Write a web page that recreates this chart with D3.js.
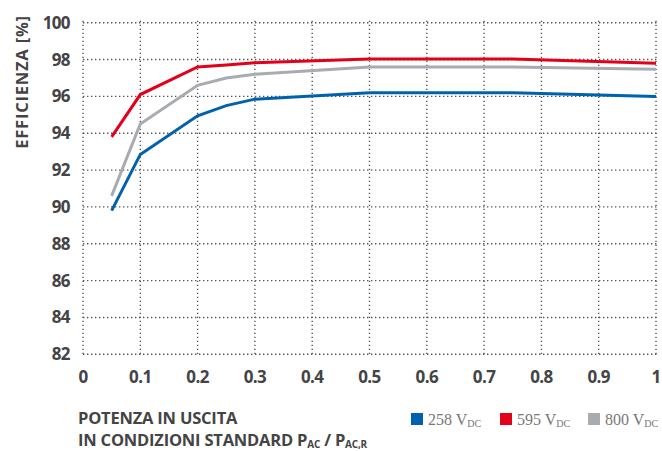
<!DOCTYPE html>
<html>
<head>
<meta charset="utf-8">
<script src="https://cdn.jsdelivr.net/npm/d3@7"></script>
<style>
  body { margin: 0; background: #fff; }
  text { font-family: "Open Sans", sans-serif; }
</style>
</head>
<body>
<script>
// potenza relativa (x) e efficienza [%] per le tre tensioni
var xvals = [0.05, 0.1, 0.2, 0.25, 0.3, 0.5, 0.75, 1.0];
var v258 = [89.8, 92.85, 94.95, 95.5, 95.85, 96.2, 96.2, 96.0];
var v595 = [93.8, 96.1, 97.6, 97.7, 97.83, 98.03, 98.03, 97.8];
var v800 = [90.6, 94.5, 96.6, 97.0, 97.2, 97.6, 97.6, 97.47];
var xticks = [0, 0.1, 0.2, 0.3, 0.4, 0.5, 0.6, 0.7, 0.8, 0.9, 1];
var yticks = [82, 84, 86, 88, 90, 92, 94, 96, 98, 100];
var series = [
  {name: "258", values: v258, color: "#0062ad"},
  {name: "595", values: v595, color: "#e2001a"},
  {name: "800", values: v800, color: "#a8acb1"}
];

var width = 662, height = 451;
var svg = d3.select('body').append('svg')
    .attr('width', width)
    .attr('height', height);

var x = d3.scaleLinear().domain([0, 1]).range([83, 656]);
var y = d3.scaleLinear().domain([82, 100]).range([354.3, 22.7]);

// griglia punteggiata
svg.append('g').selectAll('line.v')
    .data(xticks).enter().append('line')
    .attr('x1', function (d) { return x(d); })
    .attr('x2', function (d) { return x(d); })
    .attr('y1', y(100) - 2)
    .attr('y2', y(82))
    .attr('stroke', '#555')
    .attr('stroke-width', 1.4)
    .attr('stroke-dasharray', '1.4,2.6');

svg.append('g').selectAll('line.h')
    .data(yticks).enter().append('line')
    .attr('x1', x(0))
    .attr('x2', x(1) + 3)
    .attr('y1', function (d) { return y(d); })
    .attr('y2', function (d) { return y(d); })
    .attr('stroke', '#555')
    .attr('stroke-width', 1.4)
    .attr('stroke-dasharray', '1.4,2.6');

// etichette assi
svg.append('g').selectAll('text')
    .data(yticks).enter().append('text')
    .attr('x', 70)
    .attr('y', function (d) { return y(d) + 6; })
    .attr('text-anchor', 'end')
    .attr('font-size', 17)
    .attr('font-weight', 700)
    .attr('fill', '#444')
    .attr('letter-spacing', -0.6)
    .text(function (d) { return d; });

svg.append('g').selectAll('text')
    .data(xticks).enter().append('text')
    .attr('x', function (d) { return x(d); })
    .attr('y', 383)
    .attr('text-anchor', 'middle')
    .attr('font-size', 17)
    .attr('font-weight', 700)
    .attr('fill', '#444')
    .attr('letter-spacing', -0.6)
    .text(function (d) { return d; });

svg.append('text')
    .attr('transform', 'translate(28,82) rotate(-90)')
    .attr('text-anchor', 'middle')
    .attr('font-size', 16.5)
    .attr('font-weight', 700)
    .attr('fill', '#444')
    .attr('letter-spacing', 0.8)
    .text('EFFICIENZA [%]');

// linee
var line = d3.line()
    .x(function (d, i) { return x(xvals[i]); })
    .y(function (d) { return y(d); });

svg.append('g').selectAll('path')
    .data(series).enter().append('path')
    .attr('d', function (s) { return line(s.values); })
    .attr('fill', 'none')
    .attr('stroke', function (s) { return s.color; })
    .attr('stroke-width', 3);

// titolo asse x
svg.append('text')
    .attr('x', 78).attr('y', 424)
    .attr('font-size', 16.5)
    .attr('font-weight', 700)
    .attr('fill', '#444')
    .attr('letter-spacing', -0.2)
    .text('POTENZA IN USCITA');

var t2 = svg.append('text')
    .attr('x', 78).attr('y', 446)
    .attr('font-size', 16.5)
    .attr('font-weight', 700)
    .attr('fill', '#444')
    .attr('letter-spacing', -0.2);
t2.append('tspan').text('IN CONDIZIONI STANDARD P');
t2.append('tspan').attr('font-size', 10).attr('dy', 2).text('AC');
t2.append('tspan').attr('dy', -2).text(' / P');
t2.append('tspan').attr('font-size', 10).attr('dy', 2).text('AC,R');

// legenda
var legx = [411, 500, 588];
var leg = svg.append('g').selectAll('g')
    .data(series).enter().append('g')
    .attr('transform', function (s, i) { return 'translate(' + legx[i] + ',413)'; });

leg.append('rect')
    .attr('width', 12).attr('height', 12)
    .attr('fill', function (s) { return s.color; });

var lt = leg.append('text')
    .attr('x', 17).attr('y', 12)
    .attr('font-size', 16)
    .attr('fill', '#777')
    .style('font-family', '"Liberation Serif", serif');
lt.append('tspan').text(function (s) { return s.name + ' V'; });
lt.append('tspan').attr('font-size', 10).attr('dy', 2).text('DC');
</script>
</body>
</html>
